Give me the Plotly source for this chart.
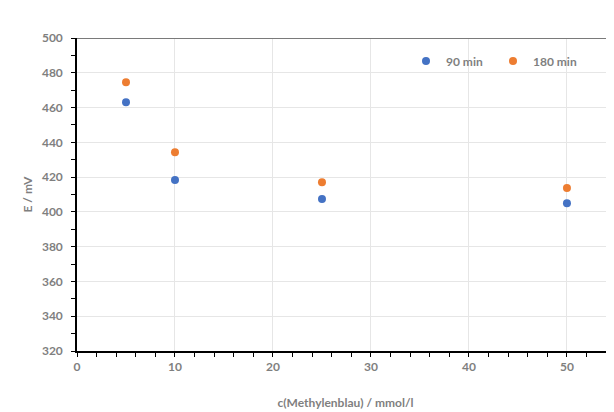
import plotly.graph_objects as go

conc = [5, 10, 25, 50]
e_90 = [463.0, 418.3, 407.4, 405.0]
e_180 = [474.5, 434.3, 417.0, 413.8]
series_names = ["90 min", "180 min"]
colors = ["#4472C4", "#ED7D31"]

# page is offset by 8px body margin
W, H = 606, 404
ml, mr, mt, mb = 69, 0, 30, 61
pw, ph = W - ml - mr, H - mt - mb

fig = go.Figure()
for name, ys, c in zip(series_names, [e_90, e_180], colors):
    fig.add_trace(go.Scatter(x=conc, y=ys, mode="markers", name=name,
                             marker=dict(color=c, size=8)))

font_fam = "Lato, Open Sans, sans-serif"
grey = "#7f7f7f"

fig.update_layout(
    width=W, height=H,
    margin=dict(l=ml, r=mr, t=mt, b=mb, autoexpand=False),
    paper_bgcolor="white",
    plot_bgcolor="white",
    font=dict(family=font_fam, color=grey, size=12),
    showlegend=True,
    legend=dict(orientation="h", x=(398 - ml) / pw, y=(ph - 23) / ph, xanchor="left", yanchor="middle",
                bgcolor="rgba(0,0,0,0)", font=dict(size=12, color=grey, family=font_fam, weight="bold"),
                itemwidth=30, tracegroupgap=0, entrywidth=42),
    shapes=[
        dict(type="line", xref="paper", yref="y", x0=0, x1=1, y0=500, y1=500,
             line=dict(color="#7a7a7a", width=2)),
    ],
)

fig.update_xaxes(
    range=[0, 54.8], tickvals=[0, 10, 20, 30, 40, 50],
    showgrid=True, gridcolor="#e6e6e6", gridwidth=1,
    showline=True, linecolor="black", linewidth=1.5,
    ticks="outside", ticklen=4, tickcolor="black", tickwidth=1.2,
    minor=dict(dtick=2, tick0=0, ticks="outside", ticklen=4, tickcolor="black", tickwidth=1.2, showgrid=False),
    tickfont=dict(size=12, color=grey, family=font_fam, weight="bold"),
    title=dict(text="c(Methylenblau) / mmol/l", standoff=25,
               font=dict(size=12, color=grey, family=font_fam, weight="bold")),
    zeroline=False, automargin=False,
)
fig.update_yaxes(
    range=[320, 500], dtick=20, tick0=320,
    showgrid=True, gridcolor="#e6e6e6", gridwidth=1,
    showline=True, linecolor="black", linewidth=1.5,
    ticks="outside", ticklen=4, tickcolor="black", tickwidth=1.2,
    minor=dict(dtick=10, tick0=320, ticks="outside", ticklen=4, tickcolor="black", tickwidth=1.2, showgrid=False),
    tickfont=dict(size=12, color=grey, family=font_fam, weight="bold"),
    ticklabelstandoff=6,
    title=dict(text="E / mV", standoff=7,
               font=dict(size=12, color=grey, family=font_fam, weight="bold")),
    zeroline=False, automargin=False,
)

fig.write_html("out.html")
